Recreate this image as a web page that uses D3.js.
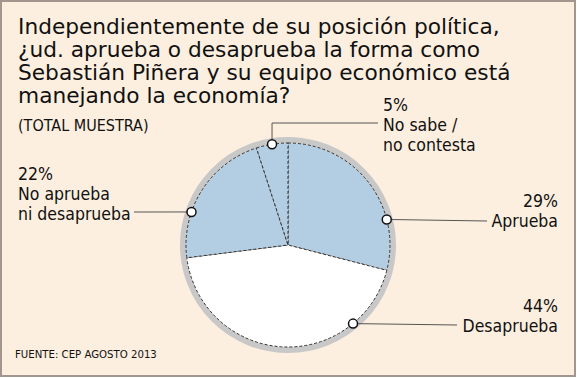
<!DOCTYPE html>
<html>
<head>
<meta charset="utf-8">
<script src="https://cdn.jsdelivr.net/npm/d3@7"></script>
<style>
  body { margin: 0; background: #fff; }
  svg { display: block; font-family: "DejaVu Sans Condensed", "DejaVu Sans", sans-serif; }
</style>
</head>
<body>
<div id="chart"></div>
<script>
// data
let categories = ["Aprueba", "Desaprueba", "No aprueba ni desaprueba", "No sabe / no contesta"];
let values = [29, 44, 22, 5];
let pctLabels = ["29%", "44%", "22%", "5%"];
let nameLines = [["Aprueba"], ["Desaprueba"], ["No aprueba", "ni desaprueba"], ["No sabe /", "no contesta"]];
let titleLines = [
  "Independientemente de su posición política,",
  "¿ud. aprueba o desaprueba la forma como",
  "Sebastián Piñera y su equipo económico está",
  "manejando la economía?"
];
let subtitle = "(TOTAL MUESTRA)";
let source = "FUENTE: CEP AGOSTO 2013";

let w = 577, h = 378;
let cx = 288, cy = 245, r = 102;

// label layout: where the leader line meets the pie, and where the text sits
let layout = [
  {dotAng: 75.5, lineY: 221, lineEnd: 487, textX: 558, anchor: "end", textY: 207},
  {dotAng: 140.4, lineY: 325, lineEnd: 457, textX: 558, anchor: "end", textY: 312},
  {dotAng: 288.9, lineY: 212, lineEnd: 134, textX: 18, anchor: "start", textY: 180},
  {dotAng: 351, lineY: 123, lineEnd: 378, textX: 383, anchor: "start", textY: 111}
];

let svg = d3.select("#chart").append("svg")
  .attr("width", w)
  .attr("height", h);

svg.append("rect")
  .attr("x", 1).attr("y", 1)
  .attr("width", w - 3).attr("height", h - 3)
  .attr("fill", "#fcefdf")
  .attr("stroke", "#a2968e")
  .attr("stroke-width", 2);

// title
let title = svg.append("text")
  .attr("x", 18)
  .attr("font-family", "'DejaVu Sans', sans-serif")
  .attr("font-size", 21.7)
  .attr("fill", "#111");
title.selectAll("tspan").data(titleLines).join("tspan")
  .attr("x", 18)
  .attr("y", (d, i) => 34 + i * 23)
  .text(d => d);

svg.append("text")
  .attr("x", 18).attr("y", 131)
  .attr("font-size", 16)
  .attr("fill", "#111")
  .text(subtitle);

svg.append("text")
  .attr("x", 15).attr("y", 358)
  .attr("font-size", 11.3)
  .attr("fill", "#111")
  .text(source);

// pie
let pie = d3.pie().sort(null).value(d => d);
let arcs = pie(values);
let arc = d3.arc().innerRadius(0).outerRadius(r);
let fills = ["#b3cde2", "#ffffff", "#b3cde2", "#b3cde2"];

let g = svg.append("g").attr("transform", "translate(" + cx + "," + cy + ")");

g.append("circle")
  .attr("r", r + 3)
  .attr("fill", "none")
  .attr("stroke", "#c8c8c8")
  .attr("stroke-width", 6);

g.selectAll(".slice").data(arcs).join("path")
  .attr("class", "slice")
  .attr("d", arc)
  .attr("fill", (d, i) => fills[i])
  .attr("stroke", "#333")
  .attr("stroke-width", 1)
  .attr("stroke-dasharray", "3,2");

// leaders
function dotPos(i) {
  let a = layout[i].dotAng * Math.PI / 180;
  return [cx + r * Math.sin(a), cy - r * Math.cos(a)];
}

categories.forEach((c, i) => {
  let L = layout[i];
  let p = dotPos(i);
  let pts;
  if (i == 3) {
    pts = [[p[0], p[1]], [p[0], L.lineY], [L.lineEnd, L.lineY]];
  } else {
    pts = [[p[0], p[1]], [L.lineEnd, L.lineY]];
  }
  svg.append("path")
    .attr("d", d3.line()(pts))
    .attr("fill", "none")
    .attr("stroke", "#555")
    .attr("stroke-width", 1);

  svg.append("circle")
    .attr("cx", p[0]).attr("cy", p[1])
    .attr("r", 4.5)
    .attr("fill", "#fff")
    .attr("stroke", "#111")
    .attr("stroke-width", 1.5);

  let t = svg.append("text")
    .attr("font-size", 17.5)
    .attr("fill", "#111")
    .attr("text-anchor", L.anchor);
  t.selectAll("tspan").data([pctLabels[i]].concat(nameLines[i])).join("tspan")
    .attr("x", L.textX)
    .attr("y", (d, j) => L.textY + j * 20)
    .text(d => d);
});
</script>
</body>
</html>
